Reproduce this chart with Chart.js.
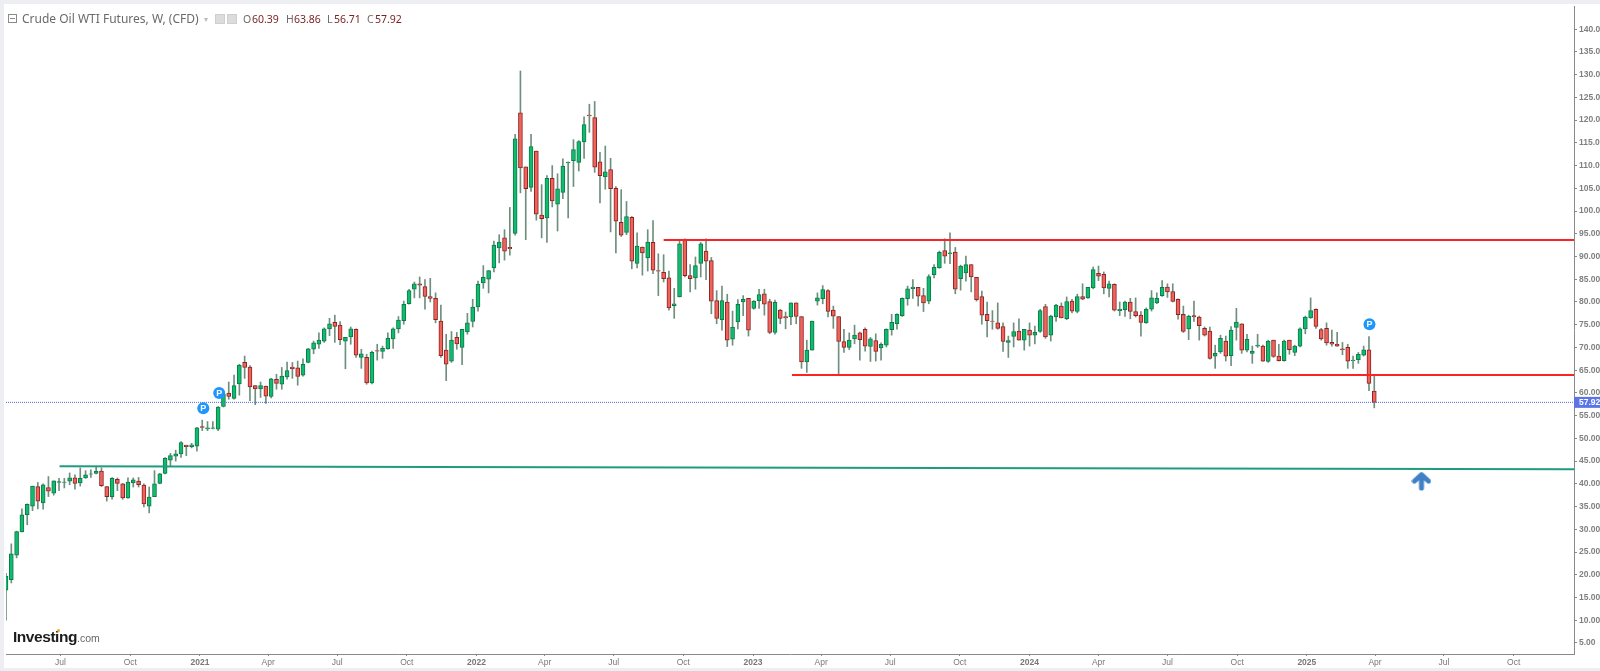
<!DOCTYPE html>
<html>
<head>
<meta charset="utf-8">
<title>Crude Oil WTI Futures</title>
<script src="https://cdn.jsdelivr.net/npm/chart.js@4/dist/chart.umd.min.js"></script>
<style>
    html, body { margin: 0; padding: 0; width: 1600px; height: 671px; overflow: hidden; background: #eceef1; }
    #panel { position: absolute; left: 4px; top: 4px; width: 1596px; height: 664px; background: #fff; }
    #priceChart { position: absolute; left: 0; top: 0; filter: blur(0.4px); }
    .hdr { position: absolute; top: 12px; font: 12px/14px "Noto Sans", sans-serif; color: #6a6a6a; white-space: nowrap; }
    .hdr.val { color: #7b2323; font-size: 10.5px; }
    .hdr.key { font-size: 10.5px; }
    #collapse { position: absolute; left: 8px; top: 14px; width: 7px; height: 7px; border: 1px solid #8a8a8a; }
    #collapse i { position: absolute; left: 1px; right: 1px; top: 3px; height: 1px; background: #8a8a8a; }
    .ico { position: absolute; top: 14px; width: 8px; height: 8px; background: #dcdcdc; border: 1px solid #cfcfcf; }
    #logo { position: absolute; left: 13px; top: 628px; font: bold 15.5px/18px "Liberation Sans", sans-serif; color: #1c1c1c; letter-spacing: -0.45px; white-space: nowrap; }
    #logo span { font-weight: normal; font-size: 10.5px; color: #666; letter-spacing: 0; }
    #dot { position: absolute; left: 57px; top: 629px; width: 3px; height: 3px; border-radius: 50%; background: #f5a623; }
</style>
</head>
<body>
<div id="panel"></div>
<canvas id="priceChart" width="1600" height="671"></canvas>

<div id="collapse"><i></i></div>
<div class="hdr" style="left:22px">Crude Oil WTI Futures, W, (CFD)</div>
<div class="hdr" style="left:204px;color:#bbb;font-size:8px">▾</div>
<div class="ico" style="left:215px"></div>
<div class="ico" style="left:227px"></div>
<div class="hdr key" style="left:243px">O</div><div class="hdr val" style="left:252px">60.39</div>
<div class="hdr key" style="left:286px">H</div><div class="hdr val" style="left:294px">63.86</div>
<div class="hdr key" style="left:327px">L</div><div class="hdr val" style="left:334px">56.71</div>
<div class="hdr key" style="left:367px">C</div><div class="hdr val" style="left:375px">57.92</div>
<div id="logo">Investing<span>.com</span></div>
<div id="dot"></div>

<script>
// Weekly candles, oldest first, week of 2020-04-20 is index 0
const firstWeek = '2020-04-20';

const opens = [
    16.6,18.9,24.3,29.4,33.2,35.1,39.4,35.8,39.2,37.95,
    40.3,40.3,40.6,41.3,40.2,41.3,42.1,42.3,42.8,39.4,
    37.2,41,40,36.9,40.2,40.6,39.7,35.1,37.2,40.1,
    42.3,45.2,46.1,46.6,48.5,48.2,48.3,52.6,52.1,52.2,
    52,57,59.95,58.8,62,66.7,65.7,61.6,60.9,61.5,
    59.2,63,61.9,63.5,65.7,65.5,63.9,66.7,69.6,70.7,
    71.4,74.1,75.5,74.9,71.4,72.3,74,67.8,67.8,62.2,
    69.3,69.1,69.7,71.9,74.1,75.9,79.6,82.8,84,83.4,
    81.2,80.8,75.8,69.4,67,72.2,70,73.4,75.7,78.9,
    84.2,85,87.5,91.9,94.1,92,95.1,121.6,109.7,105.2,
    113.2,99.1,98.5,107.2,101.5,104.1,110.6,111.1,110.7,115.2,
    121.1,120.55,110.8,107.5,109.1,105,97.5,95.3,98.6,88.5,
    92.1,89.7,93.1,86.9,86.5,85.3,79.2,81.1,93.7,85.8,
    85.3,88.5,91.2,89.1,80.3,76.1,80,71.8,75.6,80,
    80.8,78.6,80.3,81.8,80.1,73.3,78.2,76.8,76.7,79.8,
    76.8,66.8,69.4,80.2,80.7,82.5,78.2,76.8,71.3,70,
    71.9,73.2,74,70.2,71.5,69.9,70.5,73.9,75.2,77,
    80.7,82.9,83.2,81.4,80.2,86,87.5,91.3,90.6,91,
    85.1,86.4,88.2,85.4,81.2,77.3,75.8,75.4,74.6,71.1,
    72.4,73.6,71.6,73.8,72.7,73.5,79,72.7,76.7,79.1,
    76.3,80.2,77.9,81.2,80.9,83.1,86.3,86.1,83,83.9,
    78.1,78.3,80,77.9,77.1,75.4,78.4,79.8,81.4,83.3,
    82.3,80.6,77.3,74.1,77,76.7,74.2,73.6,68.1,69,
    71.4,68.2,74.4,75.2,69.4,68.7,70.3,70.3,66.9,71.6,
    68.1,67.1,71.6,68.9,70.3,74.1,76.5,78.4,73.9,74.2,
    71.1,70.7,69.7,70,67.1,67.3,68.3,69.5,60.39
];
const highs = [
    20.3,26.8,29.6,34.5,35.6,39.5,40.3,40,41.6,40.65,
    41.2,41.2,42.4,42,43.5,42.9,43.1,43.8,43.5,39.4,
    41.4,41.3,40.1,41.3,41.3,41.4,40,39.3,42.9,42.3,
    45.8,46.7,47.4,49.3,48.5,48.9,52.4,54,53.7,53.7,
    57,60,62.4,63.9,66.3,68.1,66,61.6,62.4,61.5,
    63.2,64.1,65.6,66.8,66.7,67,67.5,69.8,71.4,73.2,
    74.3,76.4,77.1,75.7,72.2,74.5,74.1,69.6,68.5,69.2,
    70.7,70.3,73.2,74.3,76.8,80.2,82.8,84.4,85.5,84.9,
    85.2,82,79.3,72.9,73.5,73.3,74,77.5,80.6,84.6,
    88,86.9,93.4,94.8,95.9,100.8,116.9,130.8,109.7,116.9,
    113.2,105.8,107.8,110,108.2,111.5,110.8,115.7,115.5,120.7,
    123.5,124.1,112.9,114.3,111.6,105.4,104.7,102.1,98.8,95.2,
    92.1,95.9,97.9,90.6,90.4,86.8,83,93.4,93.9,88.2,
    89.9,93.1,93.9,89.8,82.5,83.5,81.7,78,80.5,81.4,
    80.8,80.3,82.8,82.8,80.6,80.4,78.4,77.8,79.8,79.8,
    76.8,71.6,75.8,82,83.6,82.7,79.1,76.8,74,73.2,
    74.9,73.4,74.3,72.2,73,71,74.1,77.3,77.4,80.9,
    83.5,84.9,83.2,83,86,88.2,91.2,93.9,95.2,92,
    88.1,90.1,88.2,85.4,82.4,80,78.1,79.8,75.4,72.5,
    75.4,76.3,74,75.4,74.7,78.4,79.5,77.1,79.5,79.8,
    81.1,80.6,81.7,84,83.2,87.7,87.9,86.6,84.6,84,
    80,80.2,80.8,80.9,77.9,78.7,82.5,82,84.7,84,
    84,80.7,79.1,77.1,80.2,76.9,74.5,74.5,70.5,72.7,
    72.5,74.6,78.6,75.2,72.9,70.3,72.9,70.5,71.6,71.6,
    70.7,71.6,71.6,70.5,74.3,76.9,80.9,78.5,74.2,75.4,
    73.8,73.3,71.1,70.7,68.1,68.9,70.3,72.4,63.86
];
const lows = [
    10,18.2,23.7,29.4,31,34.1,34.5,34.4,37.2,37.5,
    38.5,39.1,39.8,38.8,39.5,41.2,41.4,42.2,39.4,36.2,
    36.6,38.5,36.6,36.8,39.3,39.3,34.9,33.6,37.2,40,
    42.2,43.8,45,45.8,46.2,47.9,47.2,51.7,51.7,52.1,
    51.7,56.9,58.6,58.6,59.5,63.2,58.3,57.4,59,57.7,
    58.9,60.8,60.8,63,63.2,61.7,63.7,66.6,68.6,69.8,
    71.1,72.6,71.1,70.6,65.3,70.7,67.8,65.4,61.9,62,
    67.2,67.6,69.6,69.8,73.2,75.1,79.5,80.9,80.9,78.4,
    80,75.4,67.8,62.7,66.7,69.6,66.2,72.9,74.5,78,
    83,82,86.6,88.6,89.2,90.3,94.7,104,93.7,104.3,
    98,94.1,93.1,100.9,95.6,102.7,98.5,105.4,108.8,111.6,
    117.3,108.5,101.8,104.8,95.4,90.8,94.4,94.8,87.3,87.5,
    85.9,86.8,86.2,81.4,84.4,78.2,76.4,81.1,85.5,82.2,
    82.8,85.5,84.9,77.4,75.2,73.8,70.2,70.5,74.1,77,
    72.5,78.4,78.6,77.1,73,72.9,75.2,74.1,75,75.2,
    65.4,64.5,69.4,79.3,79.6,76.7,74.2,63.8,68.9,69.5,
    70.8,67.2,69.2,66.9,67,67.2,70.1,72.7,74,76.8,
    79.3,80.8,79.1,77.9,79.6,85.3,87.4,88.5,88.4,81.8,
    82.6,84.6,82.2,80.2,75.1,72.3,74,74,69.1,67.8,
    70.1,71.6,69.4,70.3,70.8,73.3,72,71.4,75.7,76.5,
    76.1,77.6,77.6,80.5,80.8,82.9,84.7,81.8,81.1,78,
    77,76.8,76.3,76.7,72.5,75.3,78,79.6,81.2,81,
    80,76.2,73.3,71.7,75.7,71.6,72.5,67.4,65.4,68.7,
    67,66,71.6,68.7,69,66.5,70,66.9,66.7,67.8,
    67,67,68.5,68.2,70.1,73,76.4,74.2,71.6,70.5,
    70.3,70.2,68.4,65.4,65.4,66.5,68.1,60.5,56.71
];
const closes = [
    19.7,24.6,29.5,33.2,35.5,39.5,36.2,39.8,38.4,40.65,
    40.5,40.4,41.3,40.1,41.2,42,42.2,42.8,39.6,37.2,
    41.2,40.1,36.9,40.4,40.9,39.8,35.6,37.1,40,42.2,
    45.6,46.2,46.6,49.1,48.2,48.6,52.3,52.4,52.3,52.3,
    56.9,59.7,59.2,61.6,66.1,65.6,61.3,60.9,61.6,59.3,
    63.1,62.1,63.7,64.9,65.3,63.6,66.3,69.7,71,71.6,
    74.1,75.2,74.6,71.7,72.2,74.1,68.3,68.6,62.2,68.9,
    69.2,69.8,72,74.1,76,79.5,82.5,84,83.7,81.2,
    80.8,76.1,68.2,66.3,71.6,70.8,74,75.4,78.9,83.9,
    85.4,86.9,92.5,93.2,91.2,91.7,115.9,109.5,104.9,114.2,
    99.3,98.3,107.2,102.2,104.9,109.9,110.7,113.5,115.3,119,
    120.9,109.66,107.8,108.6,104.9,97.8,94.7,98.8,89,92.3,
    90.8,93.2,87,86.8,85.1,78.7,79.6,92.8,85.8,85.1,
    88,92.8,89,80.2,76.4,80.3,71.6,74.5,79.5,80.6,
    73.8,80.2,81.6,79.5,73.3,79.9,76.4,76.5,79.8,76.8,
    66.8,69.4,75.8,80.9,82.7,77.9,76.9,71.3,70,71.6,
    72.7,71.7,70.3,71.9,69.1,70.7,74,75.5,77.3,80.8,
    82.9,83.3,81.3,79.8,85.6,87.6,90.9,90.1,90.8,82.8,
    87.9,88.2,85.5,80.5,77.1,75.9,75.7,74.2,71.3,71.5,
    73.5,71.6,74,72.7,73.3,78.1,72.3,76.9,79.3,76.5,
    80.1,78,81.2,80.6,83.2,87.1,85.7,83.1,84,78.2,
    78.4,80,77.9,77,75.5,78.4,80.9,80.8,83.2,82.2,
    80.1,77.2,73.5,76.9,76.7,74.8,72.7,67.6,68.7,72,
    68.1,73.8,75.6,69.4,71.8,69.2,70.5,67,71.4,68,
    67.1,71.4,69.5,70.3,74.1,76.7,78.1,74.6,71.9,71,
    70.7,70.3,69.5,67,67.2,68.5,69.5,62.1,57.92
];

// Axis ticks
const priceTicks = [5,10,15,20,25,30,35,40,45,50,55,60,65,70,75,80,85,90,95,100,105,110,115,120,125,130,135,140];
const timeTickDates = [
    '2020-07-01','2020-10-01','2021-01-01','2021-04-01','2021-07-01','2021-10-01',
    '2022-01-01','2022-04-01','2022-07-01','2022-10-01','2023-01-01','2023-04-01',
    '2023-07-01','2023-10-01','2024-01-01','2024-04-01','2024-07-01','2024-10-01',
    '2025-01-01','2025-04-01','2025-07-01','2025-10-01'
];
const timeTickLabels = [
    'Jul','Oct','2021','Apr','Jul','Oct',
    '2022','Apr','Jul','Oct','2023','Apr',
    'Jul','Oct','2024','Apr','Jul','Oct',
    '2025','Apr','Jul','Oct'
];

// Hand drawn levels, as [week index, price]
const xMax = 295.66;
const lastPrice = 57.92;
const resistance = [[124, 93.65], [xMax, 93.65]];
const support = [[148.2, 63.95], [xMax, 63.95]];
const target = [[10.1, 43.85], [xMax, 43.2]];
const pivotMarks = [[37.2, 56.6], [40.2, 60], [257.1, 75.1]];
const arrowMark = [[266.9, 40.6]];

function weekIndex(date) {
    return (new Date(date) - new Date(firstWeek)) / (7 * 86400000);
}

function toPoints(pairs) {
    return pairs.map(p => ({ x: p[0], y: p[1] }));
}

// Blue up arrow, used as point style
function makeArrow() {
    const c = document.createElement('canvas');
    c.width = 20;
    c.height = 20;
    const g = c.getContext('2d');
    g.strokeStyle = '#3f80c6';
    g.lineWidth = 5;
    g.lineCap = 'round';
    g.lineJoin = 'round';
    g.beginPath();
    g.moveTo(3, 10);
    g.lineTo(10, 3.5);
    g.lineTo(17, 10);
    g.moveTo(10, 4);
    g.lineTo(10, 17);
    g.stroke();
    return c;
}

function levelLine(pairs, color, width) {
    return {
        type: 'line',
        data: toPoints(pairs),
        borderColor: color,
        borderWidth: width,
        pointRadius: 0,
        order: 3
    };
}

const bullFill = '#0fbb6c';
const bullEdge = '#0c7a4a';
const bearFill = '#f0625a';
const bearEdge = '#8a2424';

const isUp = closes.map((c, i) => c >= opens[i]);

// Draws the P on the pivot marks and the last price tag
const overlayPlugin = {
    id: 'overlay',
    afterDraw(chart) {
        const g = chart.ctx;
        const meta = chart.getDatasetMeta(5);
        g.save();
        g.font = 'bold 9px "Liberation Sans", sans-serif';
        g.fillStyle = '#fff';
        g.textAlign = 'center';
        g.textBaseline = 'middle';
        meta.data.forEach(pt => g.fillText('P', pt.x, pt.y + 0.5));

        const y = chart.scales.y.getPixelForValue(lastPrice);
        g.fillStyle = '#5b75e6';
        g.fillRect(chart.chartArea.right, y - 5.5, 26, 11);
        g.fillStyle = '#fff';
        g.font = 'bold 8.5px "Liberation Sans", sans-serif';
        g.textAlign = 'left';
        g.fillText(lastPrice.toFixed(2), chart.chartArea.right + 5, y + 0.5);
        g.restore();
    }
};

new Chart(document.getElementById('priceChart').getContext('2d'), {
    type: 'bar',
    data: {
        datasets: [
            {
                // wicks
                data: lows.map((l, i) => ({ x: i, y: [l, highs[i]] })),
                barThickness: 1,
                grouped: false,
                backgroundColor: '#6f8f7e',
                borderWidth: 0,
                order: 5
            },
            {
                // bodies
                data: opens.map((o, i) => ({ x: i, y: [o, closes[i]] })),
                barThickness: 4,
                grouped: false,
                borderSkipped: false,
                borderWidth: 1,
                backgroundColor: isUp.map(up => up ? bullFill : bearFill),
                borderColor: isUp.map(up => up ? bullEdge : bearEdge),
                order: 4
            },
            levelLine(resistance, '#fb2424', 2),
            levelLine(support, '#fb2424', 2),
            levelLine(target, '#1f9c80', 2),
            {
                type: 'line',
                data: toPoints(pivotMarks),
                showLine: false,
                pointRadius: 6,
                pointBackgroundColor: '#1e96fc',
                pointBorderColor: '#1e96fc',
                pointBorderWidth: 0,
                order: 1
            },
            {
                type: 'line',
                data: toPoints(arrowMark),
                showLine: false,
                pointStyle: makeArrow(),
                order: 1
            },
            {
                type: 'line',
                data: toPoints([[0, lastPrice], [xMax, lastPrice]]),
                borderColor: '#5169d8',
                borderWidth: 1,
                borderDash: [1, 1],
                pointRadius: 0,
                order: 2
            }
        ]
    },
    options: {
        responsive: false,
        animation: false,
        devicePixelRatio: 1,
        layout: { padding: { left: 4, top: 4 } },
        plugins: { legend: { display: false }, tooltip: { enabled: false } },
        scales: {
            x: {
                type: 'linear',
                offset: false,
                min: 0,
                max: xMax,
                afterFit: scale => {
                    scale.height = 17;
                    scale.paddingLeft = 0;
                    scale.paddingRight = 0;
                },
                afterBuildTicks: scale => {
                    scale.ticks = timeTickDates.map(d => ({ value: weekIndex(d) }));
                },
                grid: { offset: false, drawOnChartArea: false, tickLength: 2, tickColor: '#888' },
                border: { color: '#8a8a8a' },
                ticks: {
                    autoSkip: false,
                    maxRotation: 0,
                    padding: 2,
                    font: ctx => ({
                        family: '"Liberation Sans", sans-serif',
                        size: 8.5,
                        weight: ctx.tick && /^\d/.test(ctx.tick.label) ? 'bold' : 'normal'
                    }),
                    color: '#777',
                    callback: function(value, index) { return timeTickLabels[index]; }
                }
            },
            y: {
                position: 'right',
                min: 2.57,
                max: 145.1,
                afterFit: scale => {
                    // no extra room above the plot for the tick labels
                    scale.width = 26;
                    scale.paddingTop = 0;
                    scale.paddingBottom = 0;
                },
                afterBuildTicks: scale => {
                    scale.ticks = priceTicks.map(v => ({ value: v }));
                },
                grid: { drawOnChartArea: false, tickLength: 3, tickColor: '#888' },
                border: { color: '#8a8a8a' },
                ticks: {
                    autoSkip: false,
                    padding: 2,
                    font: { family: '"Liberation Sans", sans-serif', size: 8.5, weight: 'bold' },
                    color: '#808080',
                    callback: value => value.toFixed(2)
                }
            }
        }
    },
    plugins: [overlayPlugin]
});
</script>
</body>
</html>
